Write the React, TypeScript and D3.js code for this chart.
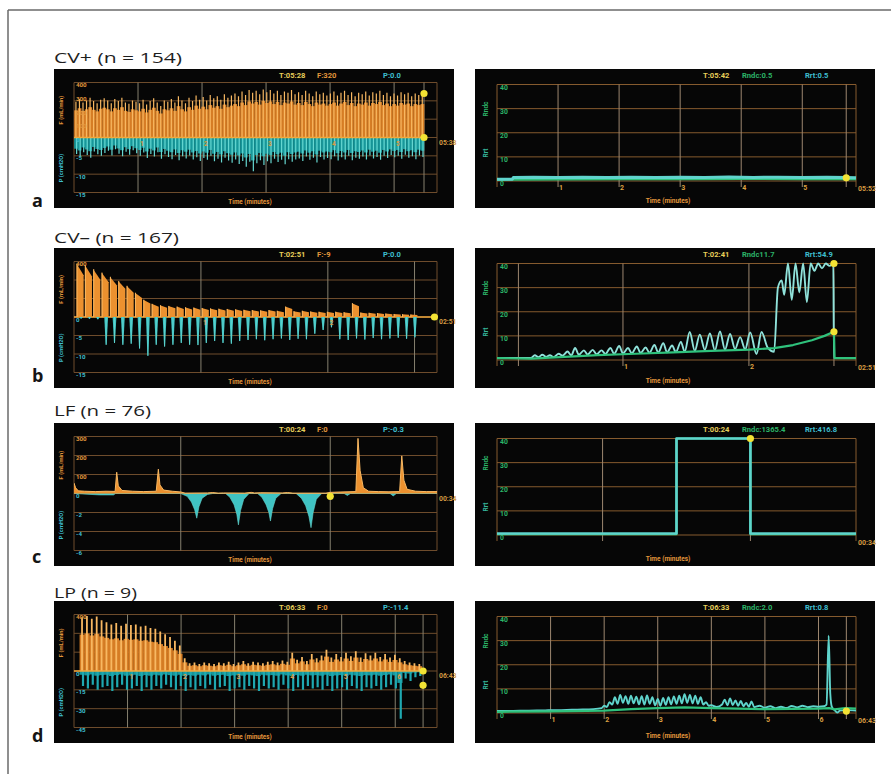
import React from "react";
import * as d3 from "d3";

type Pt = [number, number];

// ---------------- data ----------------
const rowTitles = ["CV+ (n = 154)", "CV– (n = 167)", "LF (n = 76)", "LP (n = 9)"];
const rowLetters = ["a", "b", "c", "d"];

const leftHeaderT = ["T:05:28", "T:02:51", "T:00:24", "T:06:33"];
const leftHeaderF = ["F:320", "F:-9", "F:0", "F:0"];
const leftHeaderP = ["P:0.0", "P:0.0", "P:-0.3", "P:-11.4"];
const rightHeaderT = ["T:05:42", "T:02:41", "T:00:24", "T:06:33"];
const rightHeaderRndc = ["Rndc:0.5", "Rndc11.7", "Rndc:1365.4", "Rndc:2.0"];
const rightHeaderRrt = ["Rrt:0.5", "Rrt:54.9", "Rrt:416.8", "Rrt:0.8"];
const leftEndLabels = ["05:38", "02:51", "00:34", "06:43"];
const rightEndLabels = ["05:52", "02:51", "00:34", "06:43"];

// time axes (minutes; row c in seconds)
const leftTMax = [5.67, 2.86, 34, 6.78];
const rightTMax = [5.88, 2.85, 34, 6.7];
const leftTimeTicks = [[1, 2, 3, 4, 5], [1, 2], [], [1, 2, 3, 4, 5, 6]];
const leftTimeLines = [[1, 2, 3, 4, 5, 5.467], [1, 2, 2.683], [10, 24], [1, 2, 3, 4, 5, 6, 6.52]];
const leftCursor = [5.467, 2.86, 24, 6.52];
const rightTimeTicks = [[1, 2, 3, 4, 5], [1, 2], [], [1, 2, 3, 4, 5, 6]];
const rightTimeLines = [[1, 2, 3, 4, 5, 5.72], [0.17, 1, 2, 2.675], [10, 24], [1, 2, 3, 4, 5, 6, 6.52]];

// F (mL/min) and P (cmH2O) axes
const leftFMax = [400, 400, 300, 400];
const leftFTicks = [[400, 300, 200, 100], [400], [300, 200, 100], [400]];
const leftPMin = [-15, -15, -6, -45];
const leftPTicks = [[0, -5, -10, -15], [0, -5, -10, -15], [0, -2, -4, -6], [0, -15, -30, -45]];
const rightTicks = [40, 30, 20, 10, 0];

// cursor dots
const leftDotsF: Pt[][] = [[[5.467, 320]], [[2.84, 0]], [], [[6.52, 0]]];
const leftDotsP: Pt[][] = [[[5.467, 0]], [], [[24, -0.3]], [[6.52, -11.4]]];
const rightDots: Pt[][] = [[[5.72, 1.3]], [[2.675, 40], [2.675, 11.7]], [[24, 40]], [[6.52, 0.8]]];

// panel a (CV+) pulses
const aPulseSpan: [number, number] = [0.03, 5.44];
const aFPeaks = [
  260, 280, 255, 270, 290, 265, 250, 275, 285,
  270, 250, 280, 265, 290, 255, 245, 270, 260,
  250, 275, 240, 265, 285, 255, 230, 270, 260,
  280, 255, 300, 270, 250, 290, 265, 305, 275,
  295, 270, 310, 285, 300, 275, 315, 290, 305,
  320, 300, 335, 310, 345, 325, 340, 315, 350,
  330, 345, 320, 340, 310, 335, 325, 345, 315,
  330, 310, 340, 320, 300, 335, 315, 325, 305,
  320, 335, 305, 325, 340, 310, 330, 300, 325,
  315, 335, 305, 330, 320, 340, 310, 325, 300,
  320, 305, 330, 315, 325, 300, 320, 310, 320,
];
const aPTroughs = [
  -4.5, -5.2, -4.0, -4.8, -5.5, -3.8, -4.6, -5.0, -4.2,
  -3.6, -4.9, -3.2, -4.4, -5.1, -3.9, -4.7, -3.5, -4.3,
  -5.0, -4.1, -5.6, -4.5, -5.2, -4.0, -5.8, -4.6, -5.3,
  -5.9, -4.8, -6.2, -5.1, -5.7, -4.9, -6.0, -5.4, -6.4,
  -5.6, -6.1, -5.0, -6.5, -5.8, -6.8, -5.5, -6.3, -6.9,
  -6.0, -7.2, -6.4, -8.0, -6.6, -9.2, -7.0, -6.2, -7.5,
  -6.5, -7.0, -5.8, -6.7, -6.1, -7.3, -5.9, -6.6, -6.0,
  -5.7, -6.4, -5.2, -6.1, -5.5, -6.8, -5.3, -6.0, -5.6,
  -5.9, -5.1, -6.3, -5.4, -6.0, -5.0, -6.2, -5.5, -5.8,
  -5.2, -6.0, -4.9, -5.7, -5.3, -6.1, -5.0, -5.6, -4.8,
  -5.4, -5.0, -5.8, -4.7, -5.5, -5.1, -5.9, -4.9, -5.3,
];

// panel b (CV-) pulses
const bPulseSpan: [number, number] = [0.02, 2.65];
const bFPeaks = [
  385, 375, 345, 320, 290, 260, 225, 175, 125, 95,
  85, 80, 75, 70, 68, 65, 62, 60, 58, 55,
  52, 50, 48, 50, 45, 75, 42, 45, 40, 38,
  38, 38, 35, 100, 32, 30, 28, 25, 22, 20, 18,
];
const bPTroughs = [
  -0.4, -0.5, -0.6, -7.5, -7.0, -7.5, -7.2, -8.5, -10.5, -7.5,
  -8.0, -7.5, -7.0, -7.5, -7.6, -7.0, -6.5, -7.0, -7.2, -6.5,
  -6.2, -6.0, -6.3, -6.0, -5.8, -6.2, -5.9, -6.0, -4.5, -3.5,
  -2.8, -6.0, -6.2, -5.8, -6.1, -5.7, -6.0, -5.8, -5.6, -5.9, -5.5,
];

// panel c (LF) traces, seconds
const cFlow: Pt[] = [
  [0, 55], [0.15, 30], [0.4, 14], [1, 12], [2, 10], [3, 12], [3.85, 11], [4.0, 112], [4.15, 40],
  [4.5, 16], [5.5, 12], [6.5, 10], [7.7, 12], [7.9, 128], [8.05, 45], [8.4, 18], [9.2, 12], [10, 8],
  [10.4, 2], [12.5, 3], [13, 5], [13.5, 2], [14, 3], [16, 2], [16.6, 6], [16.9, 3], [17.5, 4],
  [19.5, 3], [20, 5], [20.5, 2], [23.6, 2], [24, 6], [25, 8], [26.4, 10], [26.6, 290], [26.8, 120],
  [27.1, 30], [27.6, 12], [28.5, 10], [29.5, 9], [30.5, 10], [30.7, 198], [30.9, 70], [31.2, 22],
  [32, 12], [33, 10], [34, 10],
];
const cPressure: Pt[] = [
  [0, 0], [2.4, -0.15], [3.7, -0.15], [3.9, 0], [10.0, 0], [10.6, -0.3], [11.0, -0.9], [11.3, -1.7],
  [11.5, -2.6], [11.7, -1.4], [12.0, -0.5], [12.5, -0.1], [13, 0], [14.2, 0], [14.6, -0.4],
  [15.0, -1.2], [15.25, -2.2], [15.4, -3.3], [15.6, -1.8], [15.9, -0.6], [16.4, 0], [17.2, 0],
  [17.6, -0.4], [18.0, -1.2], [18.25, -2.0], [18.4, -2.9], [18.6, -1.6], [18.9, -0.5], [19.4, 0],
  [20.8, 0], [21.3, -0.5], [21.7, -1.3], [22.0, -2.4], [22.2, -3.6], [22.4, -2.0], [22.7, -0.6],
  [23.2, 0], [25.3, 0], [25.6, -0.2], [25.9, 0], [29.6, 0], [29.9, -0.25], [30.2, 0], [34, 0],
];

// panel d (LP) pulses
const dPulseSpan: [number, number] = [0.15, 6.45];
const dFPeaks = [
  380, 390, 370, 385, 360,
  345, 330, 340, 320, 335,
  325, 330, 315, 320, 305, 300,
  280, 260, 240, 215, 180,
  90, 55, 60, 50, 60, 55,
  50, 60, 55, 65, 50,
  60, 70, 55, 65, 60,
  55, 65, 70, 60, 75, 65,
  130, 80, 100, 70, 120,
  90, 110, 150, 95, 120, 100,
  130, 105, 140, 95, 125,
  110, 130, 100, 120, 95, 115,
  90, 70, 60, 55, 50,
];
const dPTroughs = [
  -12, -14, -11, -15, -13,
  -12, -16, -13, -11, -15,
  -14, -12, -16, -13, -15, -12,
  -14, -11, -13, -15, -12,
  -16, -13, -15, -12, -14, -11,
  -15, -13, -12, -16, -14,
  -13, -15, -12, -14, -16,
  -12, -14, -13, -15, -11, -14,
  -16, -13, -15, -12, -14,
  -13, -15, -12, -16, -14, -13,
  -15, -12, -14, -16, -13,
  -14, -12, -15, -13, -11, -14,
  -38, -6, -8, -5, -4,
];

// right panels: Rrt (cyan) and Rndc (green)
const rrtA: Pt[] = [
  [0, 0.7], [0.25, 0.7], [0.27, 1.5], [0.6, 1.6], [1, 1.4], [1.4, 1.6], [1.8, 1.5], [2.2, 1.6],
  [2.6, 1.4], [3.0, 1.6], [3.4, 1.5], [3.8, 1.7], [4.2, 1.5], [4.6, 1.6], [5.0, 1.4], [5.4, 1.6],
  [5.72, 1.5], [5.88, 1.3],
];
const rndcA: Pt[] = [[0, 0.5], [1, 0.7], [2, 0.8], [3, 0.8], [4, 0.9], [5, 0.8], [5.88, 0.8]];
const rrtB: Pt[] = [
  [0, 0.8], [0.27, 0.8], [0.30, 2.0], [0.33, 1.2], [0.36, 2.2], [0.39, 1.3], [0.42, 2.0], [0.45, 1.2],
  [0.49, 2.6], [0.52, 1.8], [0.56, 3.5], [0.59, 1.9], [0.62, 5.0], [0.65, 2.2], [0.69, 4.0], [0.72, 2.3],
  [0.76, 4.2], [0.79, 2.4], [0.83, 4.0], [0.86, 2.5], [0.90, 5.0], [0.93, 2.6], [0.97, 5.8], [1.00, 2.7],
  [1.04, 5.0], [1.07, 2.8], [1.11, 5.6], [1.14, 2.9], [1.18, 5.2], [1.21, 3.0], [1.25, 6.2], [1.28, 3.1],
  [1.32, 7.0], [1.35, 3.2], [1.39, 6.0], [1.42, 3.3], [1.46, 7.5], [1.49, 3.4], [1.53, 11.6], [1.57, 3.8],
  [1.61, 10.5], [1.65, 4.2], [1.69, 11.0], [1.73, 4.0], [1.77, 11.8], [1.81, 4.3], [1.85, 10.8], [1.89, 4.5],
  [1.93, 9.5], [1.97, 4.4], [2.01, 11.4], [2.06, 2.5], [2.10, 11.6], [2.15, 5.0], [2.20, 3.4], [2.23, 30],
  [2.26, 33], [2.28, 27], [2.31, 41], [2.34, 25], [2.37, 41], [2.40, 28], [2.43, 41], [2.46, 24],
  [2.49, 41], [2.52, 37], [2.55, 41], [2.58, 38], [2.61, 41], [2.64, 39], [2.67, 41], [2.675, 0.8],
  [2.85, 0.8],
];
const rndcB: Pt[] = [
  [0, 0.8], [0.27, 0.6], [0.5, 1.2], [0.8, 2.0], [1.1, 2.6], [1.4, 3.2], [1.7, 3.8], [2.0, 4.3],
  [2.2, 4.9], [2.35, 6.2], [2.5, 8.2], [2.6, 10.0], [2.675, 11.7], [2.68, 0.8], [2.85, 0.8],
];
const rrtC: Pt[] = [[0, 0.6], [17, 0.6], [17, 45], [24, 45], [24, 0.6], [34, 0.6]];
const rndcC: Pt[] = [[0, 0.4], [17, 0.4], [17, 45], [24, 45], [24, 0.4], [34, 0.4]];
const rrtD: Pt[] = [
  [0, 0.8], [0.3, 0.9], [0.6, 1.0], [0.9, 1.1], [1.2, 1.2], [1.5, 1.4], [1.8, 1.6], [1.95, 2.0],
  [2.0, 3.0], [2.05, 2.5], [2.1, 4.5], [2.15, 3.5], [2.2, 6.5], [2.25, 3.8], [2.3, 7.5], [2.35, 4.2],
  [2.4, 7.0], [2.45, 3.8], [2.5, 7.2], [2.55, 4.0], [2.6, 6.8], [2.65, 3.6], [2.7, 7.0], [2.75, 3.5],
  [2.8, 7.3], [2.85, 3.8], [2.9, 6.5], [2.95, 3.2], [3.0, 5.8], [3.05, 3.0], [3.1, 6.2], [3.15, 3.4],
  [3.2, 6.6], [3.25, 3.6], [3.3, 6.9], [3.35, 3.8], [3.4, 7.2], [3.45, 4.0], [3.5, 7.8], [3.55, 4.2],
  [3.6, 7.5], [3.65, 4.0], [3.7, 7.2], [3.75, 3.8], [3.8, 6.5], [3.85, 3.5], [3.9, 4.5], [3.95, 3.0],
  [4.0, 3.2], [4.1, 2.5], [4.2, 3.5], [4.25, 5.5], [4.3, 3.2], [4.35, 6.0], [4.4, 3.3], [4.45, 5.2],
  [4.5, 3.0], [4.55, 5.0], [4.6, 2.8], [4.65, 4.2], [4.7, 2.6], [4.75, 4.8], [4.8, 2.4], [4.9, 3.0],
  [5.0, 2.2], [5.1, 2.8], [5.2, 2.0], [5.3, 2.6], [5.4, 2.1], [5.5, 2.9], [5.6, 2.3], [5.7, 3.0],
  [5.8, 2.4], [5.9, 2.8], [6.0, 2.6], [6.1, 2.8], [6.15, 3.5], [6.19, 32], [6.22, 8], [6.25, 2.5],
  [6.3, 1.2], [6.35, 0.2], [6.4, 1.0], [6.5, 1.2], [6.7, 1.0],
];
const rndcD: Pt[] = [
  [0, 0.5], [1, 0.7], [2, 1.0], [2.5, 1.6], [3, 2.0], [3.5, 2.3], [4, 2.0], [4.5, 1.8], [5, 1.6],
  [6, 1.8], [6.2, 2.0], [6.3, 1.5], [6.5, 2.0], [6.7, 1.8],
];
const rightRrt = [rrtA, rrtB, rrtC, rrtD];
const rightRndc = [rndcA, rndcB, rndcC, rndcD];

// ---------------- layout & style ----------------
const W = 891, H = 774;
const rowTop = [69, 248, 423, 601];
const rowH = [139, 140, 143, 142];
const titleBase = [62.5, 243, 416, 598];
const titleLen = [128, 125, 97, 83];
const letterBase = [207, 382, 563, 742];
const LX0 = 54, RX0 = 475, PW = 400;
const LG0 = 74, LG1 = 437, RG0 = 497, RG1 = 856;

const DEV = "'Liberation Sans Narrow','Roboto','Liberation Sans',sans-serif";
const SANS = "'Open Sans','Noto Sans',sans-serif";
const BG = "#060606";
const ORANGE = "#ec912f";
const ORANGE_LT = "#f8b862";
const ORANGE_DK = "#d67d25";
const CYAN = "#3fc3c3";
const CYAN_LT = "#66d8d2";
const CYAN_DK = "#17979a";
const GREEN = "#2fc27c";
const YELLOW = "#f3e334";
const GRID_H = "#6e4c2c";
const GRID_V = "#86806f";
const RGRID_H = "#855a2e";
const RGRID_V = "#9d8770";
const TXT_Y = "#e6cf5a";
const TXT_O = "#e2963c";
const TXT_C = "#3fbfd0";
const TXT_G = "#2cb468";

function LeftPanel({ r }: { r: number }) {
  const top = rowTop[r], h = rowH[r];
  const gy0 = top + 13.5, gy1 = top + h - 15.5, zy = (gy0 + gy1) / 2;
  const x = d3.scaleLinear().domain([0, leftTMax[r]]).range([LG0, LG1]);
  const yF = d3.scaleLinear().domain([0, leftFMax[r]]).range([zy, gy0]);
  const yP = d3.scaleLinear().domain([leftPMin[r], 0]).range([gy1, zy]);
  const hGrid = d3.range(7).map((k) => gy0 + (k * (gy1 - gy0)) / 6);
  const clip = `lclip${r}`;

  let signal: React.ReactNode = null;
  if (r === 0 || r === 3) {
    const fp = r === 0 ? aFPeaks : dFPeaks;
    const pt = r === 0 ? aPTroughs : dPTroughs;
    const ti = d3.scaleLinear().domain([0, fp.length - 1]).range(r === 0 ? aPulseSpan : dPulseSpan);
    const w = x(ti(1)) - x(ti(0));
    const fFloor = r === 0 ? 0.76 : 0.68;
    const pFloor = r === 0 ? 0.68 : 0.25;
    signal = (
      <g>
        {pt.map((v, k) => (
          <rect key={"pr" + k} x={x(ti(k)) - w / 2} width={w + 0.3} y={zy}
            height={Math.max(0, yP(v * pFloor) - zy)} fill={CYAN_DK} />
        ))}
        {pt.map((v, k) => (
          <line key={"pl" + k} x1={x(ti(k)) + w * 0.2} x2={x(ti(k)) + w * 0.2} y1={zy} y2={yP(v)}
            stroke={r === 0 ? CYAN_LT : "#1fa8b0"} strokeWidth={r === 0 ? 1.2 : 2.2} />
        ))}
        {fp.map((v, k) => (
          <rect key={"fr" + k} x={x(ti(k)) - w / 2} width={w + 0.3} y={yF(v * fFloor)}
            height={zy - yF(v * fFloor)} fill={ORANGE_DK} />
        ))}
        {fp.map((v, k) => (
          <line key={"fl" + k} x1={x(ti(k))} x2={x(ti(k))} y1={zy} y2={yF(v)}
            stroke={ORANGE_LT} strokeWidth={r === 0 ? 1.2 : 1.8} />
        ))}
        <line x1={x(0)} x2={x(leftCursor[r])} y1={zy} y2={zy} stroke="#f0a83c" strokeWidth={1.3} />
      </g>
    );
  } else if (r === 1) {
    const ti = d3.scaleLinear().domain([0, bFPeaks.length - 1]).range(bPulseSpan);
    const w = x(ti(1)) - x(ti(0));
    signal = (
      <g>
        <line x1={x(0)} x2={x(leftTMax[r])} y1={zy} y2={zy} stroke="#f0a83c" strokeWidth={1.3} />
        {bFPeaks.map((v, k) => {
          const x0 = x(ti(k));
          const pts: Pt[] = [[x0, zy], [x0, yF(v)], [x0 + 0.85 * w, yF(v * 0.78)], [x0 + 0.85 * w, zy]];
          return (
            <g key={"bf" + k}>
              <polygon points={pts.map((p) => p.join(",")).join(" ")} fill={ORANGE} />
              <line x1={x0 + 0.5} x2={x0 + 0.5} y1={zy} y2={yF(v)} stroke={ORANGE_LT} strokeWidth={1} />
            </g>
          );
        })}
        {bPTroughs.map((v, k) => {
          const cx = x(ti(k)) + 0.55 * w;
          const pts: Pt[] = [[cx - 1.9, zy], [cx - 0.5, yP(v)], [cx + 0.5, yP(v)], [cx + 1.9, zy]];
          return (
            <g key={"bp" + k}>
              <polygon points={pts.map((p) => p.join(",")).join(" ")} fill={CYAN} />
              <line x1={cx} x2={cx} y1={zy} y2={yP(v)} stroke={CYAN_LT} strokeWidth={0.8} />
            </g>
          );
        })}
      </g>
    );
  } else {
    const areaF = d3.area<Pt>().x((d) => x(d[0])).y0(zy).y1((d) => yF(d[1]));
    const areaP = d3.area<Pt>().x((d) => x(d[0])).y0(zy).y1((d) => yP(d[1]));
    const lineF = d3.line<Pt>().x((d) => x(d[0])).y((d) => yF(d[1]));
    signal = (
      <g>
        <path d={areaP(cPressure) || ""} fill={CYAN} stroke={CYAN_LT} strokeWidth={0.6} />
        <path d={areaF(cFlow) || ""} fill={ORANGE} />
        <path d={lineF(cFlow) || ""} fill="none" stroke={ORANGE_LT} strokeWidth={1} />
      </g>
    );
  }

  return (
    <g>
      <rect x={LX0} y={top} width={PW} height={h} fill={BG} />
      <defs>
        <clipPath id={clip}>
          <rect x={LG0} y={gy0 - 1} width={LG1 - LG0} height={gy1 - gy0 + 2} />
        </clipPath>
      </defs>
      {hGrid.map((gy, k) => (
        <line key={"h" + k} x1={LG0} x2={LG1} y1={gy} y2={gy} stroke={GRID_H} strokeWidth={1} />
      ))}
      {leftTimeLines[r].map((t, k) => (
        <line key={"v" + k} x1={x(t)} x2={x(t)} y1={gy0} y2={gy1} stroke={GRID_V} strokeWidth={1} />
      ))}
      <line x1={LG0} x2={LG0} y1={gy0} y2={gy1} stroke={GRID_H} />
      <line x1={LG1} x2={LG1} y1={gy0} y2={gy1} stroke={GRID_H} />
      <g clipPath={`url(#${clip})`}>{signal}</g>
      <g fontFamily={DEV} fontSize={7.6} fontWeight="bold">
        <text x={279} y={top + 9} fill={TXT_Y}>{leftHeaderT[r]}</text>
        <text x={317} y={top + 9} fill={TXT_O}>{leftHeaderF[r]}</text>
        <text x={383} y={top + 9} fill={TXT_C}>{leftHeaderP[r]}</text>
      </g>
      <g fontFamily={DEV} fontSize={6.2} fontWeight="bold">
        {leftFTicks[r].map((v) => (
          <text key={"ft" + v} x={LG0 + 2} y={yF(v) + 4.5} fill={TXT_O}>{v}</text>
        ))}
        {leftPTicks[r].map((v) => (
          <text key={"pt" + v} x={LG0 + 2} y={yP(v) + 4.5} fill={TXT_C}>{v}</text>
        ))}
        <text transform={`translate(63,${(gy0 + zy) / 2}) rotate(-90)`} textAnchor="middle" fill={TXT_O} fontSize={5.8}>
          F (mL/min)
        </text>
        <text transform={`translate(63,${(zy + gy1) / 2 + 3}) rotate(-90)`} textAnchor="middle" fill={TXT_C} fontSize={5.8}>
          P (cmH2O)
        </text>
        {leftTimeTicks[r].map((t) => (
          <text key={"tt" + t} x={x(t) + 2} y={zy + 8} fill="#d99a40" fontSize={6.5}>{t}</text>
        ))}
        <text x={LG1 + 2} y={zy + 7} fill="#d49a42" fontSize={6.8}>{leftEndLabels[r]}</text>
        <text x={250} y={top + h - 4} textAnchor="middle" fill={TXT_O} fontSize={6.3}>Time (minutes)</text>
      </g>
      {leftDotsF[r].map((d, k) => (
        <circle key={"df" + k} cx={x(d[0])} cy={yF(d[1])} r={3.6} fill={YELLOW} />
      ))}
      {leftDotsP[r].map((d, k) => (
        <circle key={"dp" + k} cx={x(d[0])} cy={yP(d[1])} r={3.6} fill={YELLOW} />
      ))}
    </g>
  );
}

function RightPanel({ r }: { r: number }) {
  const top = rowTop[r], h = rowH[r];
  const gy0 = top + 15.5, zy = top + 112;
  const x = d3.scaleLinear().domain([0, rightTMax[r]]).range([RG0, RG1]);
  const y = d3.scaleLinear().domain([0, 40]).range([zy, gy0]).clamp(true);
  const line = d3.line<Pt>().x((d) => x(d[0])).y((d) => y(d[1]));
  const smooth = d3.line<Pt>().x((d) => x(d[0])).y((d) => y(d[1])).curve(d3.curveMonotoneX);
  const clip = `rclip${r}`;
  const greenOnTop = r === 1 || r === 3;
  const cyanGen = r === 1 || r === 3 ? smooth : line;
  const green = (
    <path d={line(rightRndc[r]) || ""} fill="none" stroke={GREEN} strokeWidth={2.2} strokeLinejoin="round" />
  );
  const cyan = (
    <path d={cyanGen(rightRrt[r]) || ""} fill="none" stroke={r === 1 ? "#8fe2da" : "#5fd4cc"}
      strokeWidth={r === 0 ? 3 : r === 2 ? 2.6 : 1.9} strokeLinejoin="round" />
  );
  return (
    <g>
      <rect x={RX0} y={top} width={PW} height={h} fill={BG} />
      <defs>
        <clipPath id={clip}>
          <rect x={RG0 - 1} y={gy0 - 2} width={RG1 - RG0 + 2} height={zy - gy0 + 6} />
        </clipPath>
      </defs>
      {rightTicks.map((v) => (
        <line key={"h" + v} x1={RG0} x2={RG1} y1={y(v)} y2={y(v)} stroke={RGRID_H} strokeWidth={1} />
      ))}
      {rightTimeLines[r].map((t, k) => (
        <line key={"v" + k} x1={x(t)} x2={x(t)} y1={gy0} y2={zy + 6} stroke={RGRID_V} strokeWidth={1} />
      ))}
      <line x1={RG0} x2={RG0} y1={gy0} y2={zy + 6} stroke={RGRID_H} />
      <line x1={RG1} x2={RG1} y1={gy0} y2={zy + 6} stroke={RGRID_H} />
      <g clipPath={`url(#${clip})`}>
        {!greenOnTop && green}
        {cyan}
        {greenOnTop && green}
      </g>
      <g fontFamily={DEV} fontSize={7.6} fontWeight="bold">
        <text x={703} y={top + 9} fill={TXT_Y}>{rightHeaderT[r]}</text>
        <text x={742} y={top + 9} fill={TXT_G}>{rightHeaderRndc[r]}</text>
        <text x={805} y={top + 9} fill={TXT_C}>{rightHeaderRrt[r]}</text>
      </g>
      <g fontFamily={DEV} fontWeight="bold">
        {rightTicks.map((v) => (
          <text key={"t" + v} x={RG0 + 3} y={y(v) + 5} fill={TXT_G} fontSize={6.8}>{v}</text>
        ))}
        <text transform={`translate(488,${top + 40}) rotate(-90)`} textAnchor="middle" fill={TXT_G} fontSize={6.5}>
          Rndc
        </text>
        <text transform={`translate(488,${top + 84}) rotate(-90)`} textAnchor="middle" fill="#35b59a" fontSize={6.5}>
          Rrt
        </text>
        {rightTimeTicks[r].map((t) => (
          <text key={"tt" + t} x={x(t) + 1} y={zy + 9} fill="#dca042" fontSize={7}>{t}</text>
        ))}
        <text x={RG1 + 2} y={zy + 10} fill="#d49a42" fontSize={7}>{rightEndLabels[r]}</text>
        <text x={668} y={top + h - 5} textAnchor="middle" fill={TXT_O} fontSize={6.5}>Time (minutes)</text>
      </g>
      {rightDots[r].map((d, k) => (
        <circle key={"d" + k} cx={x(d[0])} cy={y(d[1])} r={3.6} fill={YELLOW} />
      ))}
    </g>
  );
}

export default function App() {
  const rows = [0, 1, 2, 3];
  return (
    <svg width={W} height={H} style={{ position: "absolute", left: 0, top: 0, display: "block" }}>
      <rect width={W} height={H} fill="#ffffff" />
      <line x1={8} y1={10} x2={W} y2={10} stroke="#6a6a6a" strokeWidth={1.5} />
      <line x1={8} y1={10} x2={8} y2={H} stroke="#6a6a6a" strokeWidth={1.5} />
      {rows.map((r) => (
        <g key={r}>
          <text x={54} y={titleBase[r]} fontFamily={SANS} fontSize={15} fill="#1e1e1e"
            textLength={titleLen[r]} lengthAdjust="spacingAndGlyphs">
            {rowTitles[r]}
          </text>
          <text x={32} y={letterBase[r]} fontFamily={SANS} fontSize={18} fontWeight="bold" fill="#151515">
            {rowLetters[r]}
          </text>
          <LeftPanel r={r} />
          <RightPanel r={r} />
        </g>
      ))}
    </svg>
  );
}
